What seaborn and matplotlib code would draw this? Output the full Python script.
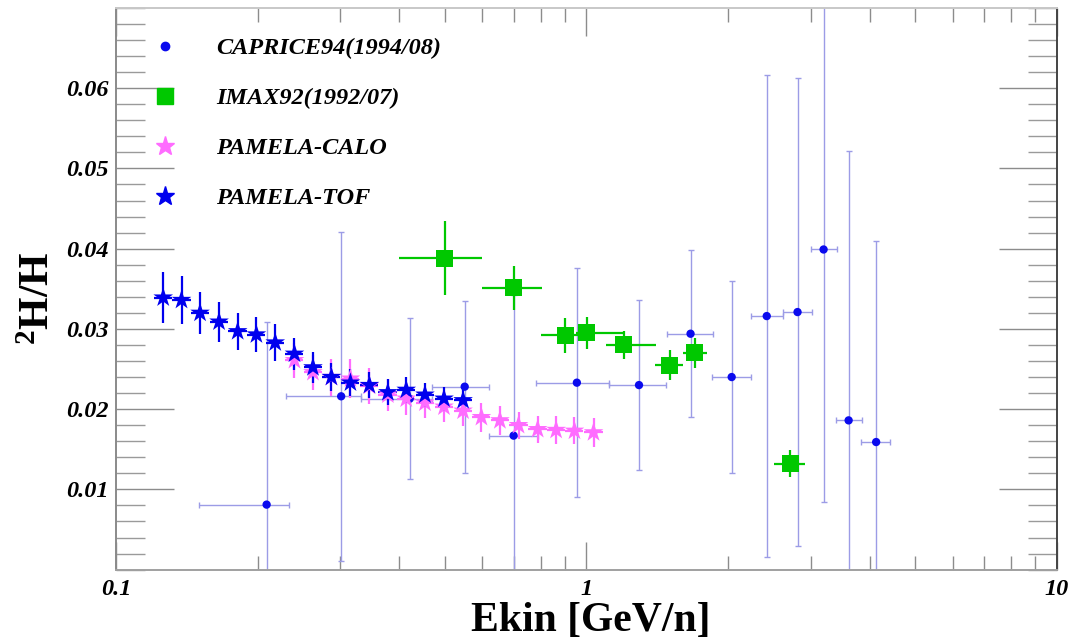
import numpy as np
import pandas as pd
import matplotlib
matplotlib.use("Agg")
import matplotlib.pyplot as plt
import seaborn as sns
from matplotlib.lines import Line2D
from matplotlib.ticker import FixedLocator, LogLocator, NullFormatter, MultipleLocator, FixedFormatter

# ---------------- data ----------------
# CAPRICE94 (1994/08)
cap_e   = [0.209, 0.301, 0.421, 0.551, 0.700, 0.954, 1.293, 1.664, 2.035, 2.416, 2.809, 3.191, 3.607, 4.127]
cap_v   = [0.0081, 0.0216, 0.0213, 0.0228, 0.0167, 0.0233, 0.0230, 0.0294, 0.0240, 0.0316, 0.0321, 0.0399, 0.0186, 0.0159]
cap_err = [0.0228, 0.0205, 0.0100, 0.0107, 0.0175, 0.0143, 0.0106, 0.0104, 0.0120, 0.0300, 0.0292, 0.0315, 0.0336, 0.0251]
cap_elo = [0.150, 0.230, 0.331, 0.470, 0.621, 0.781, 1.119, 1.483, 1.851, 2.234, 2.615, 3.003, 3.397, 3.836]
cap_ehi = [0.233, 0.331, 0.469, 0.621, 0.788, 1.119, 1.479, 1.853, 2.237, 2.620, 3.010, 3.407, 3.848, 4.413]

# IMAX92 (1992/07)
imax_e   = [0.500, 0.700, 0.901, 1.002, 1.201, 1.503, 1.699, 2.709]
imax_v   = [0.0388, 0.0351, 0.0292, 0.0295, 0.0280, 0.0255, 0.0270, 0.0132]
imax_err = [0.0046, 0.0028, 0.0022, 0.0020, 0.0018, 0.0019, 0.0019, 0.0017]
imax_elo = [0.399, 0.599, 0.801, 0.950, 1.100, 1.396, 1.600, 2.500]
imax_ehi = [0.601, 0.805, 1.000, 1.195, 1.408, 1.605, 1.805, 2.910]

# PAMELA-CALO
calo_e   = [0.2395, 0.2622, 0.2870, 0.3150, 0.3456, 0.3783, 0.4139, 0.4536, 0.4979,
            0.5466, 0.5980, 0.6546, 0.7171, 0.7875, 0.8619, 0.9428, 1.035]
calo_v   = [0.0261, 0.0246, 0.0240, 0.0238, 0.0229, 0.0218, 0.0213, 0.0208, 0.0203,
            0.0198, 0.0190, 0.0186, 0.0180, 0.0175, 0.0174, 0.0173, 0.0171]
calo_err = [0.0022, 0.0022, 0.0023, 0.0024, 0.0022, 0.0020, 0.0020, 0.0019, 0.0019,
            0.0019, 0.0018, 0.0018, 0.0017, 0.0017, 0.0017, 0.0017, 0.0018]

# PAMELA-TOF
tof_e   = [0.1260, 0.1378, 0.1509, 0.1656, 0.1814, 0.1988, 0.2180, 0.2395, 0.2622,
           0.2870, 0.3150, 0.3456, 0.3783, 0.4139, 0.4536, 0.4979, 0.5466]
tof_v   = [0.0339, 0.0336, 0.0320, 0.0309, 0.0297, 0.0293, 0.0283, 0.0269, 0.0252,
           0.0240, 0.0233, 0.0230, 0.0221, 0.0224, 0.0218, 0.0213, 0.0211]
tof_err = [0.0032, 0.0030, 0.0026, 0.0025, 0.0023, 0.0022, 0.0023, 0.0020, 0.0019,
           0.0017, 0.0017, 0.0016, 0.0016, 0.0016, 0.0015, 0.0015, 0.0015]

legend_labels = ["CAPRICE94(1994/08)", "IMAX92(1992/07)", "PAMELA-CALO", "PAMELA-TOF"]
x_ticks = [0.1, 1, 10]
x_ticklabels = ["0.1", "1", "10"]
y_ticks = [0.01, 0.02, 0.03, 0.04, 0.05, 0.06]
y_ticklabels = ["0.01", "0.02", "0.03", "0.04", "0.05", "0.06"]

# ---------------- style ----------------
sns.set_theme(style="ticks")
plt.rcParams["font.family"] = ["Liberation Serif", "DejaVu Serif"]
plt.rcParams["text.color"] = "black"
plt.rcParams["axes.labelcolor"] = "black"
plt.rcParams["mathtext.fontset"] = "custom"
plt.rcParams["mathtext.rm"] = "Liberation Serif:bold"
plt.rcParams["mathtext.bf"] = "Liberation Serif:bold"
plt.rcParams["mathtext.it"] = "Liberation Serif:bold:italic"

C_CAP = "#0a0aee"
C_CAPBAR = "#9c9ce6"
C_IMAX = "#00c800"
C_CALO = "#ff6cff"
C_TOF = "#0000ee"

fig = plt.figure(figsize=(10.8, 6.39), dpi=100)
ax = fig.add_axes([0.1074, 0.1086, 0.8713, 0.8789])
ax.set_xscale("log")

def xerr_from(e, lo, hi):
    e = np.asarray(e); return [e - np.asarray(lo), np.asarray(hi) - e]

# CAPRICE error bars
ax.errorbar(cap_e, cap_v, yerr=cap_err, xerr=xerr_from(cap_e, cap_elo, cap_ehi),
            fmt="none", ecolor=C_CAPBAR, elinewidth=1.0, capsize=2, capthick=1.0, zorder=2)
# IMAX error bars
ax.errorbar(imax_e, imax_v, yerr=imax_err, xerr=xerr_from(imax_e, imax_elo, imax_ehi),
            fmt="none", ecolor=C_IMAX, elinewidth=1.6, capsize=0, zorder=3)
# PAMELA CALO
calo_e_arr = np.asarray(calo_e)
ax.errorbar(calo_e, calo_v, yerr=calo_err, xerr=[calo_e_arr * 0.045, calo_e_arr * 0.045],
            fmt="none", ecolor=C_CALO, elinewidth=1.6, capsize=0, zorder=4)
# PAMELA TOF
tof_e_arr = np.asarray(tof_e)
ax.errorbar(tof_e, tof_v, yerr=tof_err, xerr=[tof_e_arr * 0.045, tof_e_arr * 0.045],
            fmt="none", ecolor=C_TOF, elinewidth=1.6, capsize=0, zorder=5)

df_cap = pd.DataFrame({"E": cap_e, "R": cap_v})
df_imax = pd.DataFrame({"E": imax_e, "R": imax_v})
df_calo = pd.DataFrame({"E": calo_e, "R": calo_v})
df_tof = pd.DataFrame({"E": tof_e, "R": tof_v})

sns.scatterplot(data=df_cap, x="E", y="R", ax=ax, marker="o", color=C_CAP, s=36,
                edgecolor="none", zorder=6, legend=False)
sns.scatterplot(data=df_imax, x="E", y="R", ax=ax, marker="s", color=C_IMAX, s=150,
                edgecolor="none", zorder=6, legend=False)
sns.scatterplot(data=df_calo, x="E", y="R", ax=ax, marker="*", color=C_CALO, s=220,
                edgecolor="none", zorder=6, legend=False)
sns.scatterplot(data=df_tof, x="E", y="R", ax=ax, marker="*", color=C_TOF, s=220,
                edgecolor="none", zorder=7, legend=False)

ax.set_xlim(0.1, 10)
ax.set_ylim(0, 0.07)

# ticks
ax.xaxis.set_major_locator(FixedLocator(x_ticks))
ax.xaxis.set_major_formatter(FixedFormatter(x_ticklabels))
ax.xaxis.set_minor_locator(LogLocator(base=10, subs=np.arange(2, 10)))
ax.xaxis.set_minor_formatter(NullFormatter())
ax.yaxis.set_major_locator(FixedLocator(y_ticks))
ax.yaxis.set_major_formatter(FixedFormatter(y_ticklabels))
ax.yaxis.set_minor_locator(MultipleLocator(0.002))

tick_font = dict(family="Liberation Serif", weight="bold", style="italic", size=17.5)
for lab in ax.get_xticklabels() + ax.get_yticklabels():
    lab.set_fontproperties(matplotlib.font_manager.FontProperties(**tick_font))

ax.tick_params(axis="y", which="major", direction="in", length=42, width=1.0,
               color="#8c8c8c", left=True, right=True, pad=5, labelcolor="black")
ax.tick_params(axis="y", which="minor", direction="in", length=21, width=1.0,
               color="#9a9a9a", left=True, right=True)
ax.tick_params(axis="x", which="major", direction="in", length=20, width=1.0,
               color="#8c8c8c", bottom=True, top=True, pad=7, labelcolor="black")
ax.tick_params(axis="x", which="minor", direction="in", length=10, width=1.0,
               color="#8c8c8c", bottom=True, top=True)

for side, col in [("left", "#8a8a8a"), ("bottom", "#a0a0a0"), ("top", "#c8c8c8"), ("right", "#444444")]:
    ax.spines[side].set_visible(True)
    ax.spines[side].set_color(col)
    ax.spines[side].set_linewidth(1.4)

ax.set_xlabel("Ekin [GeV/n]", fontsize=30, fontweight="bold", family="Liberation Serif", color="black")
ax.set_ylabel(r"$^{2}$H/H", fontsize=30, fontweight="bold", family="Liberation Serif", color="black")
ax.xaxis.set_label_coords(0.504, -0.058)
ax.yaxis.set_label_coords(-0.062, 0.484)

handles = [
    Line2D([], [], marker="o", color=C_CAP, linestyle="none", markersize=6),
    Line2D([], [], marker="s", color=C_IMAX, linestyle="none", markersize=12),
    Line2D([], [], marker="*", color=C_CALO, linestyle="none", markersize=14),
    Line2D([], [], marker="*", color=C_TOF, linestyle="none", markersize=14),
]
leg = ax.legend(handles, legend_labels, loc="upper left", bbox_to_anchor=(0.039, 0.948),
                frameon=False, borderpad=0, borderaxespad=0, handlelength=1.0,
                handletextpad=1.6, labelspacing=1.15, labelcolor="black",
                prop=dict(family="Liberation Serif", weight="bold", style="italic", size=17.5))

fig.savefig("out.png", dpi=100, facecolor="white")
